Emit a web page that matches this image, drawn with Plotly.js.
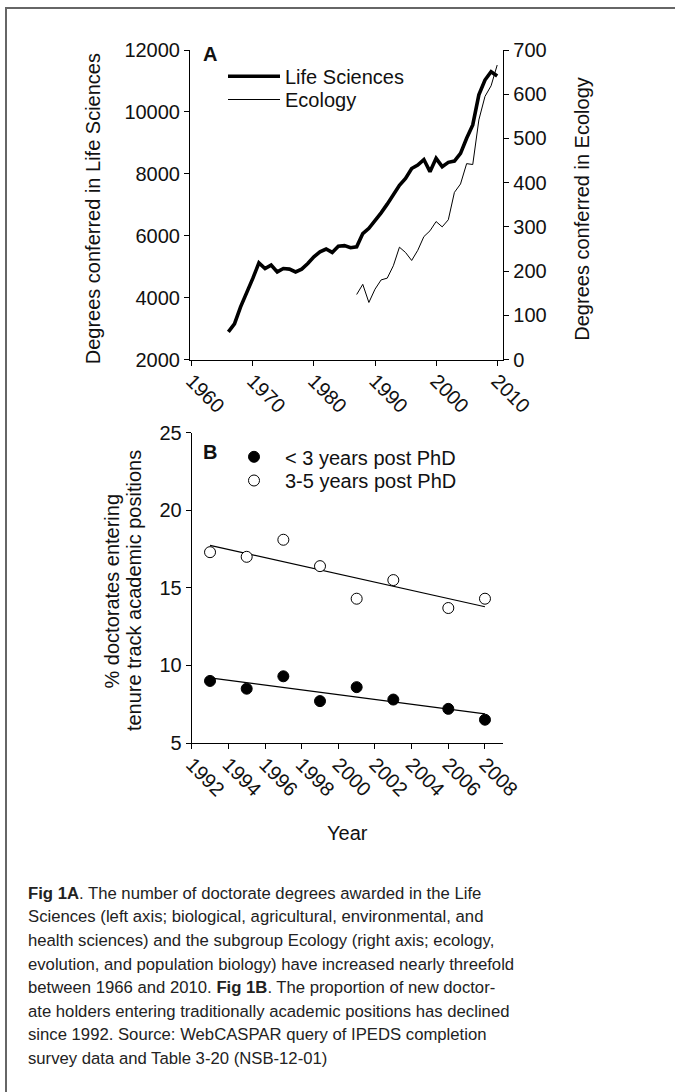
<!DOCTYPE html>
<html>
<head>
<meta charset="utf-8">
<script src="https://cdn.plot.ly/plotly-3.0.1.min.js"></script>
<style>
  html, body { margin: 0; padding: 0; background: #fff; }
  #wrap { position: relative; width: 675px; height: 1092px; overflow: hidden; }
  #frame { position: absolute; left: 5px; top: 7px; width: 680px; height: 1100px;
           border-top: 2px solid #666; border-left: 2px solid #666; pointer-events: none; }
  #chart { position: absolute; left: 0; top: 0; width: 675px; height: 1092px; }
</style>
</head>
<body>
<div id="wrap">
  <div id="chart"></div>
  <div id="frame"></div>
</div>
<script>
// ---- Panel A data ----
const lifeYears = [1966,1967,1968,1969,1970,1971,1972,1973,1974,1975,1976,1977,1978,1979,1980,
  1981,1982,1983,1984,1985,1986,1987,1988,1989,1990,1991,1992,1993,1994,1995,1996,1997,1998,1999,
  2000,2001,2002,2003,2004,2005,2006,2007,2008,2009,2010];
const lifeDegrees = [2890,3150,3700,4130,4620,5120,4940,5050,4830,4940,4920,4830,4920,5100,5320,
  5480,5570,5460,5660,5680,5610,5640,6070,6240,6480,6740,7020,7310,7630,7850,8170,8280,8460,8070,
  8500,8230,8370,8410,8660,9150,9580,10550,11030,11300,11160];
const ecoYears = [1987,1988,1989,1990,1991,1992,1993,1994,1995,1996,1997,1998,1999,2000,2001,
  2002,2003,2004,2005,2006,2007,2008,2009,2010];
const ecoDegrees = [147,170,129,159,180,184,212,254,242,224,247,278,291,312,300,
  316,378,397,443,441,542,595,619,666];

// ---- Panel B data ----
const surveyYears = [1993,1995,1997,1999,2001,2003,2006,2008];
const lessThan3 = [9.0,8.5,9.3,7.7,8.6,7.8,7.2,6.5];
const threeToFive = [17.3,17.0,18.1,16.4,14.3,15.5,13.7,14.3];

// ---- Labels ----
const seriesNamesA = ["Life Sciences", "Ecology"];
const seriesNamesB = ["< 3 years post PhD", "3-5 years post PhD"];
const captionLines = [
  "<b>Fig 1A</b>. The number of doctorate degrees awarded in the Life",
  "Sciences (left axis; biological, agricultural, environmental, and",
  "health sciences) and the subgroup Ecology (right axis; ecology,",
  "evolution, and population biology) have increased nearly threefold",
  "between 1966 and 2010. <b>Fig 1B</b>. The proportion of new doctor-",
  "ate holders entering traditionally academic positions has declined",
  "since 1992. Source: WebCASPAR query of IPEDS completion",
  "survey data and Table 3-20 (NSB-12-01)"
];

// least-squares fit (the trend lines in panel B)
function fit(xs, ys) {
  const n = xs.length;
  const mx = xs.reduce((a, b) => a + b, 0) / n;
  const my = ys.reduce((a, b) => a + b, 0) / n;
  let sxy = 0, sxx = 0;
  for (let i = 0; i < n; i++) { sxy += (xs[i] - mx) * (ys[i] - my); sxx += (xs[i] - mx) ** 2; }
  const m = sxy / sxx, b = my - m * mx;
  const x0 = xs[0], x1 = xs[n - 1];
  return { x: [x0, x1], y: [m * x0 + b, m * x1 + b] };
}
const fitLt3 = fit(surveyYears, lessThan3);
const fit35 = fit(surveyYears, threeToFive);

const W = 675, H = 1092;
const px = v => v / W;
const py = v => 1 - v / H;
const FONT = "Liberation Sans, Arial, Helvetica, sans-serif";
const INK = "#111";

const traces = [
  { x: lifeYears, y: lifeDegrees, name: seriesNamesA[0], type: "scatter", mode: "lines",
    xaxis: "x", yaxis: "y", line: { color: "#000", width: 3.6 }, legend: "legend" },
  { x: ecoYears, y: ecoDegrees, name: seriesNamesA[1], type: "scatter", mode: "lines",
    xaxis: "x", yaxis: "y2", line: { color: "#000", width: 1 }, legend: "legend3" },
  { x: fitLt3.x, y: fitLt3.y, type: "scatter", mode: "lines", showlegend: false,
    xaxis: "x3", yaxis: "y3", line: { color: "#000", width: 1.2 }, hoverinfo: "skip" },
  { x: fit35.x, y: fit35.y, type: "scatter", mode: "lines", showlegend: false,
    xaxis: "x3", yaxis: "y3", line: { color: "#000", width: 1.2 }, hoverinfo: "skip" },
  { x: surveyYears, y: lessThan3, name: seriesNamesB[0], type: "scatter", mode: "markers",
    xaxis: "x3", yaxis: "y3", legend: "legend2",
    marker: { symbol: "circle", size: 11, color: "#000", line: { color: "#000", width: 1 } } },
  { x: surveyYears, y: threeToFive, name: seriesNamesB[1], type: "scatter", mode: "markers",
    xaxis: "x3", yaxis: "y3", legend: "legend4",
    marker: { symbol: "circle", size: 11, color: "#fff", line: { color: "#000", width: 1 } } }
];

const axisBase = {
  showgrid: false, zeroline: false, showline: true, linecolor: "#000", linewidth: 1,
  ticks: "outside", ticklen: 5, tickwidth: 1, tickcolor: "#000",
  tickfont: { family: FONT, size: 20, color: INK }, tickformat: "d"
};

const annotations = [
  { text: "<b>A</b>", x: px(210), y: py(54) },
  { text: "<b>B</b>", x: px(209.5), y: py(452) },
  { text: "Degrees conferred in Life Sciences", x: px(93.3), y: py(209), textangle: -90 },
  { text: "Degrees conferred in Ecology", x: px(581.7), y: py(209), textangle: -90 },
  { text: "% doctorates entering", x: px(111.7), y: py(590.8), textangle: -90 },
  { text: "tenure track academic positions", x: px(133.3), y: py(590.8), textangle: -90 },
  { text: "Year", x: px(347.5), y: py(833) }
].map(a => Object.assign({ xref: "paper", yref: "paper", showarrow: false,
  xanchor: "center", yanchor: "middle", font: { family: FONT, size: 20, color: INK } }, a));

captionLines.forEach((t, i) => {
  annotations.push({ text: t, xref: "paper", yref: "paper", showarrow: false,
    x: px(25.5), y: py(893.3 + i * 23.57), xanchor: "left", yanchor: "middle",
    font: { family: FONT, size: 16.7, color: "#222" } });
});

function legendAt(xPix, topPix) {
  return { x: px(xPix), y: py(topPix), xanchor: "left", yanchor: "top", bgcolor: "rgba(0,0,0,0)",
    borderwidth: 0, font: { family: FONT, size: 20, color: INK }, tracegroupgap: 0, itemwidth: 52 };
}

const layout = {
  width: W, height: H, autosize: false,
  margin: { l: 0, r: 0, t: 0, b: 0, pad: 0 },
  paper_bgcolor: "#fff", plot_bgcolor: "rgba(0,0,0,0)",
  font: { family: FONT, size: 20, color: INK },
  xaxis: Object.assign({}, axisBase, {
    domain: [px(190), px(503.3)], range: [1959.72, 2011], anchor: "y",
    tick0: 1960, dtick: 10, tickangle: 45, ticklabelstandoff: -4,
    tickfont: { family: FONT, size: 20, color: INK }
  }),
  yaxis: Object.assign({}, axisBase, {
    domain: [py(359.5), py(50)], range: [2000, 12000], dtick: 2000, anchor: "x"
  }),
  yaxis2: Object.assign({}, axisBase, {
    overlaying: "y", side: "right", range: [0, 700], dtick: 100, anchor: "x"
  }),
  xaxis3: Object.assign({}, axisBase, {
    domain: [px(191.7), px(503.3)], range: [1992, 2009], anchor: "y3",
    tick0: 1992, dtick: 2, tickangle: 45, ticklabelstandoff: -4,
    tickfont: { family: FONT, size: 20, color: INK }
  }),
  yaxis3: Object.assign({}, axisBase, {
    domain: [py(743), py(432.7)], range: [5, 25], dtick: 5, anchor: "x3"
  }),
  showlegend: true,
  legend: legendAt(223, 56.7),
  legend3: legendAt(223, 80),
  legend2: legendAt(223, 437.3),
  legend4: legendAt(223, 461),
  annotations: annotations
};

Plotly.newPlot("chart", traces, layout, { staticPlot: true, displayModeBar: false });
</script>
</body>
</html>
